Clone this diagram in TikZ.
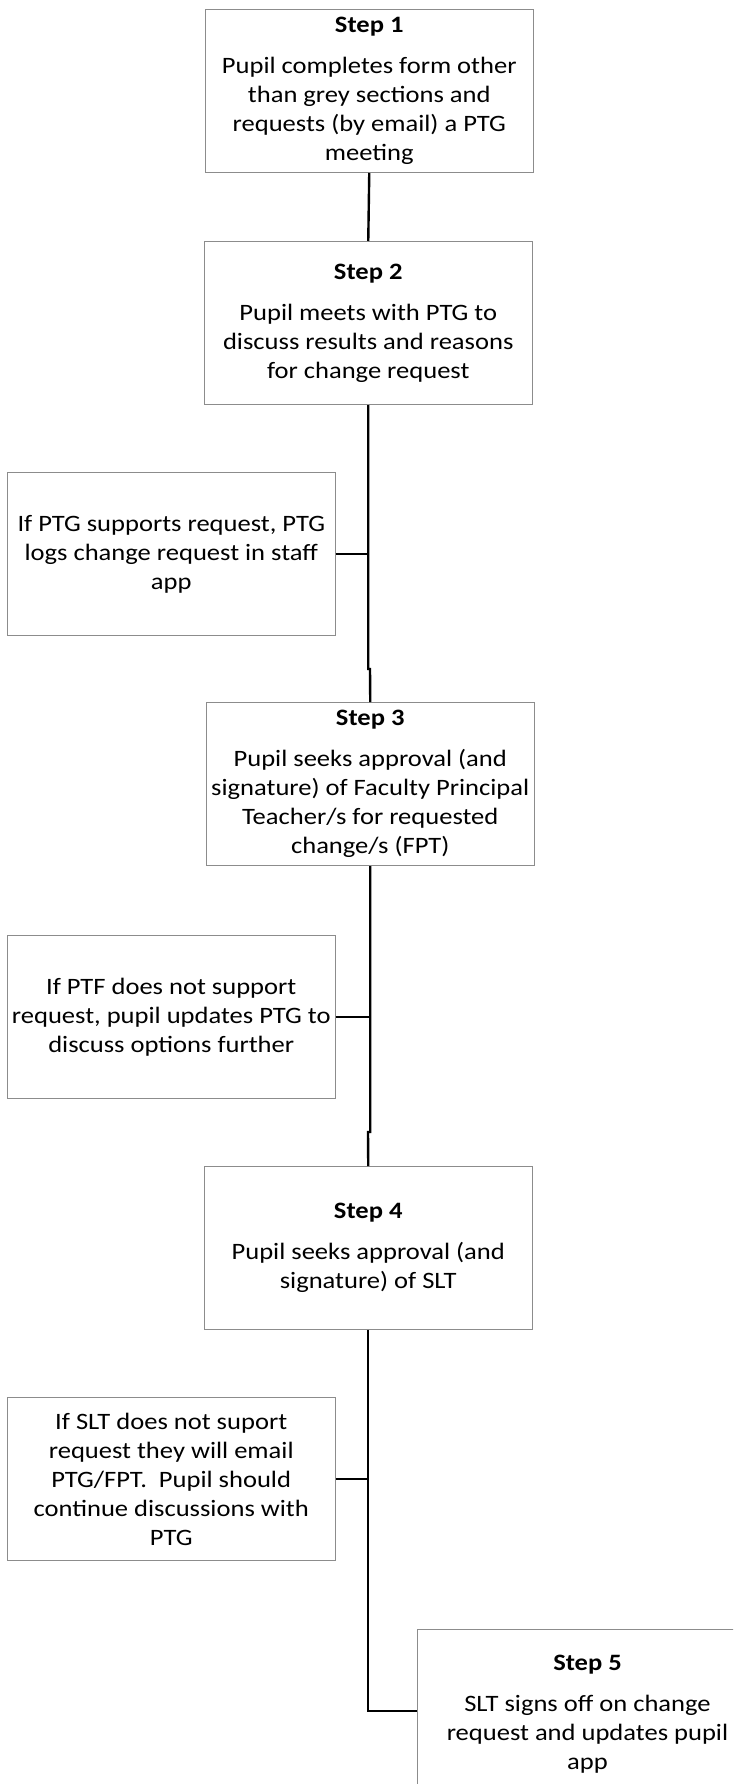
\documentclass[tikz,border=0pt]{standalone}
\usepackage{fontspec}
\setmainfont{Carlito}[FakeStretch=1.13]
\definecolor{boxgray}{HTML}{8C8C8C}
\begin{document}
\begin{tikzpicture}[x=1pt,y=-1pt,
  box/.style={draw=boxgray, line width=1pt, fill=white, minimum width=327.5pt,
    minimum height=163pt, inner sep=0pt, align=center,
    font=\fontsize{23.5}{29}\selectfont, anchor=north west},
  link/.style={line width=2.4pt, black}]
\useasboundingbox (0,0) rectangle (733,1784);
\clip (0,0) rectangle (733,1784);

\node[box] (s1) at (205,9) {\textbf{Step 1}\\[12pt]Pupil completes form other\\than grey sections and\\requests (by email) a PTG\\meeting};
\node[box] (s2) at (204,241) {\textbf{Step 2}\\[12pt]Pupil meets with PTG to\\discuss results and reasons\\for change request};
\node[box] (p1) at (7,472) {If PTG supports request, PTG\\logs change request in staff\\app};
\node[box] (s3) at (206,702) {\textbf{Step 3}\\[12pt]Pupil seeks approval (and\\signature) of Faculty Principal\\Teacher/s for requested\\change/s (FPT)};
\node[box] (p2) at (7,935) {If PTF does not support\\request, pupil updates PTG to\\discuss options further};
\node[box] (s4) at (204,1166) {\textbf{Step 4}\\[12pt]Pupil seeks approval (and\\signature) of SLT};
\node[box] (p3) at (7,1397) {If SLT does not suport\\request they will email\\PTG/FPT.\ \ Pupil should\\continue discussions with\\PTG};
\node[box, minimum width=340pt, minimum height=169pt] (s5) at (417,1629) {\textbf{Step 5}\\[12pt]SLT signs off on change\\request and updates pupil\\app};

\coordinate (j1) at (370,669);
\coordinate (j2) at (368,1132);

\draw[link] (s1.south) -- (s2.north);
\draw[link] (s2.south) -- (s2.south |- j1) -- (j1) -- (s3.north);
\draw[link] (s3.south) -- (s3.south |- j2) -- (j2) -- (s4.north);
\draw[link] (s4.south) -- (s4.south |- 0,1711) -- (s5.west |- 0,1711);
\draw[link] (p1.east) -- (p1.east -| s2.south);
\draw[link] (p2.east) -- (p2.east -| s3.south);
\draw[link] (p3.east) -- (p3.east -| s4.south);
\end{tikzpicture}
\end{document}
